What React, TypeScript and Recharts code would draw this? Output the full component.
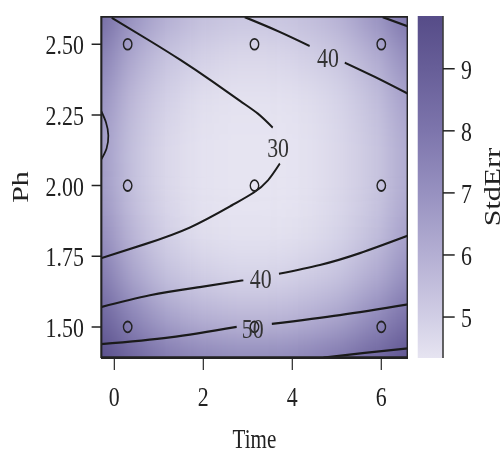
import React from 'react';
import { ComposedChart, Scatter, Bar, XAxis, YAxis } from 'recharts';

const FONT = "'Liberation Serif', 'Times New Roman', serif";
const INK = '#222222';
// the whole figure is drawn wide and squeezed horizontally
const SQUEEZE = 0.78;

const timeDomain: [number, number] = [-0.3, 6.6];
const phDomain: [number, number] = [1.39, 2.6];
const stdErrDomain: [number, number] = [4.34, 9.85];
const timeTicks = [0, 2, 4, 6];
const phTicks = [1.5, 1.75, 2.0, 2.25, 2.5];
const stdErrTicks = [5, 6, 7, 8, 9];

// design runs
const designTime = [0.3, 3.15, 6.0];
const designPh = [1.5, 2.0, 2.5];

// StdErr surface on a coarse grid; one row per gridPh value
const gridTime = [-0.3, 0.45, 1.2, 2.0, 2.75, 3.5, 4.3, 5.05, 5.8, 6.6];
const gridPh = [1.39, 1.54, 1.69, 1.84, 2.0, 2.15, 2.3, 2.45, 2.6];
const stdErrGrid = [
  [9.8, 8.7, 7.9, 7.5, 7.3, 7.3, 7.5, 7.9, 8.6, 9.5],
  [8.8, 7.4, 6.4, 5.9, 5.7, 5.7, 5.9, 6.3, 7.1, 8.2],
  [7.9, 6.3, 5.4, 5.0, 4.8, 4.8, 5.0, 5.3, 6.0, 7.1],
  [7.2, 5.7, 4.9, 4.5, 4.4, 4.4, 4.5, 4.8, 5.4, 6.5],
  [6.8, 5.4, 4.7, 4.4, 4.35, 4.35, 4.4, 4.7, 5.2, 6.2],
  [6.7, 5.4, 4.7, 4.4, 4.35, 4.35, 4.4, 4.7, 5.2, 6.2],
  [7.0, 5.6, 4.9, 4.5, 4.4, 4.4, 4.5, 4.8, 5.4, 6.5],
  [7.6, 6.1, 5.3, 4.9, 4.7, 4.7, 4.9, 5.2, 5.9, 7.1],
  [8.5, 6.9, 6.0, 5.5, 5.3, 5.3, 5.5, 5.9, 6.8, 8.1],
];

// colour ramp shared by the surface and the legend bar
const rampValues = [4.34, 5, 6, 7, 8, 9, 9.85];
const rampColors = ['#e6e4f1', '#d1cee5', '#b4afd3', '#9791c0', '#7d75ac', '#675e98', '#564c88'];

// contour paths as [time, ph] pairs, split where a label sits
const contour30Upper = [[-0.06, 2.594], [0.8, 2.512], [1.48, 2.445], [2.19, 2.37], [2.82, 2.3], [3.23, 2.254], [3.56, 2.205]];
const contour30Lower = [[3.72, 2.078], [3.45, 2.018], [3.14, 1.976], [2.64, 1.93], [1.7, 1.852], [0.69, 1.793], [-0.3, 1.743]];
const contourLeftArc = [[-0.3, 2.265], [-0.186, 2.223], [-0.135, 2.177], [-0.175, 2.131], [-0.3, 2.091]];
const contour40TopA = [[2.93, 2.596], [3.67, 2.547], [4.39, 2.494]];
const contour40TopB = [[5.18, 2.435], [5.85, 2.385], [6.6, 2.325]];
const contourCorner = [[6.03, 2.596], [6.6, 2.563]];
const contour40LowA = [[-0.3, 1.57], [0.8, 1.612], [1.92, 1.641], [2.9, 1.665]];
const contour40LowB = [[3.7, 1.688], [4.62, 1.719], [5.52, 1.761], [6.6, 1.823]];
const contour50A = [[-0.3, 1.439], [1.25, 1.463], [2.75, 1.5]];
const contour50B = [[3.54, 1.511], [5.07, 1.542], [6.6, 1.58]];
const contourBottom = [[4.7, 1.391], [5.63, 1.408], [6.6, 1.424]];

const labelTime = [3.68, 4.8, 3.29, 3.11];
const labelPh = [2.136, 2.453, 1.67, 1.493];
const labelText = ['30', '40', '40', '50'];

// layout of the main panel
const H = 446;
const MAIN_W = 530;
const TOP = 8;
const X_AXIS_H = 96;
const Y_AXIS_W = 119.2;
const MAIN_RIGHT = 17.2;
const plotW = MAIN_W - Y_AXIS_W - MAIN_RIGHT;
const plotH = H - TOP - X_AXIS_H;

const contourPaths = [
  contour30Upper, contour30Lower, contourLeftArc, contour40TopA, contour40TopB, contourCorner,
  contour40LowA, contour40LowB, contour50A, contour50B, contourBottom,
].map((path) => path.map(([t, ph]) => ({ t, ph })));

const heatData = gridPh.flatMap((ph, i) => gridTime.map((t, j) => ({ t, ph, se: stdErrGrid[i][j] })));
const designData = designPh.flatMap((ph) => designTime.map((t) => ({ t, ph })));
const labelData = labelText.map((text, i) => ({ t: labelTime[i], ph: labelPh[i], text }));
const frameData = [
  { t: timeDomain[0], ph: phDomain[0] },
  { t: timeDomain[0], ph: phDomain[1] },
  { t: timeDomain[1], ph: phDomain[1] },
  { t: timeDomain[1], ph: phDomain[0] },
  { t: timeDomain[0], ph: phDomain[0] },
];
const legendData = [{ name: 'StdErr', span: stdErrDomain }];

const hexRgb = (h: string) => [1, 3, 5].map((i) => parseInt(h.slice(i, i + 2), 16));

function rampColor(v: number) {
  let k = 0;
  while (k < rampValues.length - 2 && v > rampValues[k + 1]) k++;
  const f = Math.min(1, Math.max(0, (v - rampValues[k]) / (rampValues[k + 1] - rampValues[k])));
  const a = hexRgb(rampColors[k]);
  const b = hexRgb(rampColors[k + 1]);
  const c = a.map((x, i) => Math.round(x + (b[i] - x) * f));
  return `rgb(${c[0]},${c[1]},${c[2]})`;
}

const cellW = (plotW / (timeDomain[1] - timeDomain[0])) * ((gridTime[gridTime.length - 1] - gridTime[0]) / (gridTime.length - 1)) + 2;
const cellH = (plotH / (phDomain[1] - phDomain[0])) * ((gridPh[gridPh.length - 1] - gridPh[0]) / (gridPh.length - 1)) + 2;
const EDGE = 50;

const HeatCell = (props: any) => {
  const { cx, cy, payload } = props;
  let x0 = cx - cellW / 2;
  let x1 = cx + cellW / 2;
  let y0 = cy - cellH / 2;
  let y1 = cy + cellH / 2;
  if (payload.t === gridTime[0]) x0 -= EDGE;
  if (payload.t === gridTime[gridTime.length - 1]) x1 += EDGE;
  if (payload.ph === gridPh[0]) y1 += EDGE;
  if (payload.ph === gridPh[gridPh.length - 1]) y0 -= EDGE;
  return <rect x={x0} y={y0} width={x1 - x0} height={y1 - y0} fill={rampColor(payload.se)} />;
};

const DesignPoint = (props: any) => (
  <circle cx={props.cx} cy={props.cy} r={5.4} fill="none" stroke={INK} strokeWidth={1.8} />
);

const ContourLabel = (props: any) => (
  <text
    x={props.cx}
    y={props.cy}
    textAnchor="middle"
    dominantBaseline="central"
    fontFamily={FONT}
    fontSize={28}
    fill="#333333"
  >
    {props.payload.text}
  </text>
);

const Nothing = () => <g />;

const tickStyle = { fontFamily: FONT, fontSize: 28, fill: INK };
const axisLine = { stroke: INK, strokeWidth: 1.8 };
const tickLine = { stroke: INK, strokeWidth: 1.5 };

export default function App() {
  return (
    <div
      style={{
        position: 'fixed',
        left: 8,
        top: 8,
        width: 646,
        height: H,
        transform: `scaleX(${SQUEEZE})`,
        transformOrigin: '0 0',
      }}
    >
      <style>{'.heat-field { filter: url(#heatBlur); }'}</style>
      <div style={{ position: 'absolute', left: 0, top: 0 }}>
        <ComposedChart width={MAIN_W} height={H} margin={{ top: TOP, right: MAIN_RIGHT, bottom: 0, left: 0 }}>
          <defs>
            <filter id="heatBlur" x="-15%" y="-15%" width="130%" height="130%" colorInterpolationFilters="sRGB">
              <feGaussianBlur stdDeviation={17} />
            </filter>
          </defs>
          <Scatter
            className="heat-field"
            data={heatData}
            shape={HeatCell}
            isAnimationActive={false}
            zIndex={50}
          />
          <XAxis
            dataKey="t"
            type="number"
            domain={timeDomain}
            ticks={timeTicks}
            allowDataOverflow
            height={X_AXIS_H}
            tickSize={12}
            tickMargin={16}
            tick={tickStyle}
            axisLine={axisLine}
            tickLine={tickLine}
            label={{ value: 'Time', position: 'insideBottom', offset: 6, fontFamily: FONT, fontSize: 27, fill: INK }}
          />
          <YAxis
            dataKey="ph"
            type="number"
            domain={phDomain}
            ticks={phTicks}
            allowDataOverflow
            width={Y_AXIS_W}
            tickSize={12}
            tickMargin={10}
            tick={tickStyle}
            tickFormatter={(v: number) => v.toFixed(2)}
            axisLine={axisLine}
            tickLine={tickLine}
            label={{
              value: 'Ph',
              angle: -90,
              position: 'insideLeft',
              offset: 15.4,
              fontFamily: FONT,
              fontSize: 30,
              fill: INK,
              style: { textAnchor: 'middle' },
            }}
          />
          {contourPaths.map((pts, i) => (
            <Scatter
              key={i}
              data={pts}
              fill="#1a1a1a"
              line={{ stroke: '#1a1a1a', strokeWidth: 2.2 }}
              lineJointType="natural"
              shape={Nothing}
              isAnimationActive={false}
            />
          ))}
          <Scatter
            data={frameData}
            fill={INK}
            line={{ stroke: INK, strokeWidth: 3.6 }}
            shape={Nothing}
            isAnimationActive={false}
          />
          <Scatter data={designData} shape={DesignPoint} isAnimationActive={false} />
          <Scatter data={labelData} shape={ContourLabel} isAnimationActive={false} />
        </ComposedChart>
      </div>
      <div style={{ position: 'absolute', left: 500, top: 0 }}>
        <ComposedChart
          width={146}
          height={H}
          data={legendData}
          barCategoryGap={0}
          margin={{ top: TOP, right: 0, bottom: X_AXIS_H, left: 25.3 }}
        >
          <defs>
            <linearGradient id="stdErrRamp" x1="0" y1="1" x2="0" y2="0">
              {rampValues.map((v, i) => (
                <stop
                  key={v}
                  offset={(v - stdErrDomain[0]) / (stdErrDomain[1] - stdErrDomain[0])}
                  stopColor={rampColors[i]}
                />
              ))}
            </linearGradient>
          </defs>
          <XAxis dataKey="name" type="category" height={0} tick={false} tickLine={false} axisLine={axisLine} />
          <YAxis
            orientation="right"
            type="number"
            domain={stdErrDomain}
            ticks={stdErrTicks}
            allowDataOverflow
            width={88.3}
            tickSize={15}
            tickMargin={8}
            tick={tickStyle}
            axisLine={axisLine}
            tickLine={tickLine}
            label={{
              value: 'StdErr',
              angle: -90,
              position: 'insideRight',
              offset: 25.5,
              fontFamily: FONT,
              fontSize: 30,
              fill: INK,
              style: { textAnchor: 'middle' },
            }}
          />
          <Bar dataKey="span" fill="url(#stdErrRamp)" isAnimationActive={false} />
        </ComposedChart>
      </div>
    </div>
  );
}
